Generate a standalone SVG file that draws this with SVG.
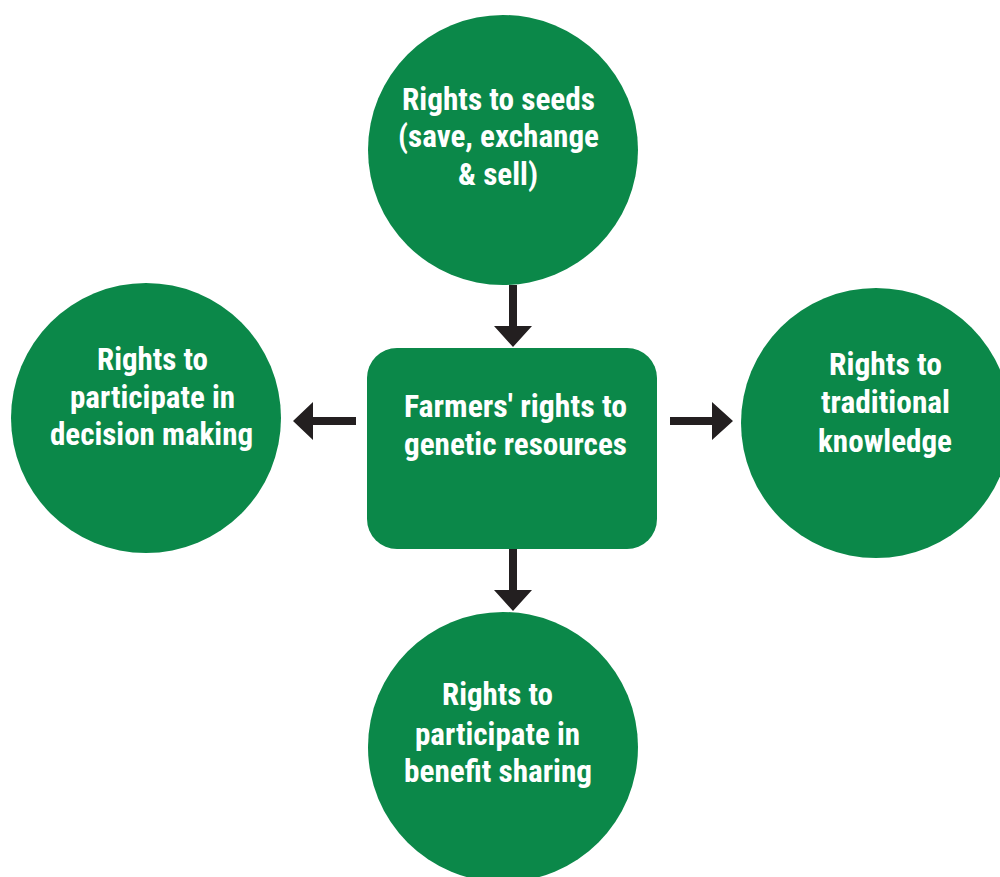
<svg xmlns="http://www.w3.org/2000/svg" width="1000" height="877" viewBox="0 0 1000 877">
<style>
.n{fill:#0b8849}
.t{fill:#ffffff;font-family:"Roboto Condensed",Roboto,"Liberation Sans",sans-serif;font-weight:700;font-size:31px}
.a{fill:#231f20}
</style>
<rect width="1000" height="877" fill="#ffffff"/>
<g id="connectors">
<polygon class="a" points="509,285 517,285 517,326 532,326 513,347 494,326 509,326"/>
<polygon class="a" points="509,549 517,549 517,590 532,590 513,611 494,590 509,590"/>
<polygon class="a" points="356,417 356,425 313,425 313,440 293,421 313,402 313,417"/>
<polygon class="a" points="670,417 670,425 712,425 712,440 733,421 712,402 712,417"/>
</g>
<g id="node-seeds">
<circle class="n" cx="503" cy="150" r="135"/>
<text class="t" x="402" y="110" textLength="193" lengthAdjust="spacingAndGlyphs">Rights to seeds</text>
<text class="t" x="398" y="147" textLength="201" lengthAdjust="spacingAndGlyphs">(save, exchange</text>
<text class="t" x="458" y="185" textLength="80" lengthAdjust="spacingAndGlyphs">&amp; sell)</text>
</g>
<g id="node-center">
<rect class="n" x="367" y="348" width="290" height="201" rx="30" ry="30"/>
<text class="t" x="404" y="417" textLength="223" lengthAdjust="spacingAndGlyphs">Farmers' rights to</text>
<text class="t" x="404" y="455" textLength="223" lengthAdjust="spacingAndGlyphs">genetic resources</text>
</g>
<g id="node-decision">
<circle class="n" cx="146" cy="418" r="135"/>
<text class="t" x="97" y="370" textLength="111" lengthAdjust="spacingAndGlyphs">Rights to</text>
<text class="t" x="70" y="408" textLength="165" lengthAdjust="spacingAndGlyphs">participate in</text>
<text class="t" x="50" y="445" textLength="203" lengthAdjust="spacingAndGlyphs">decision making</text>
</g>
<g id="node-knowledge">
<circle class="n" cx="876" cy="423" r="135"/>
<text class="t" x="829" y="375" textLength="113" lengthAdjust="spacingAndGlyphs">Rights to</text>
<text class="t" x="821" y="413" textLength="129" lengthAdjust="spacingAndGlyphs">traditional</text>
<text class="t" x="818" y="452" textLength="134" lengthAdjust="spacingAndGlyphs">knowledge</text>
</g>
<g id="node-benefit">
<circle class="n" cx="503" cy="747" r="135"/>
<text class="t" x="442" y="705" textLength="111" lengthAdjust="spacingAndGlyphs">Rights to</text>
<text class="t" x="415" y="745" textLength="165" lengthAdjust="spacingAndGlyphs">participate in</text>
<text class="t" x="404" y="782" textLength="188" lengthAdjust="spacingAndGlyphs">benefit sharing</text>
</g>
</svg>
